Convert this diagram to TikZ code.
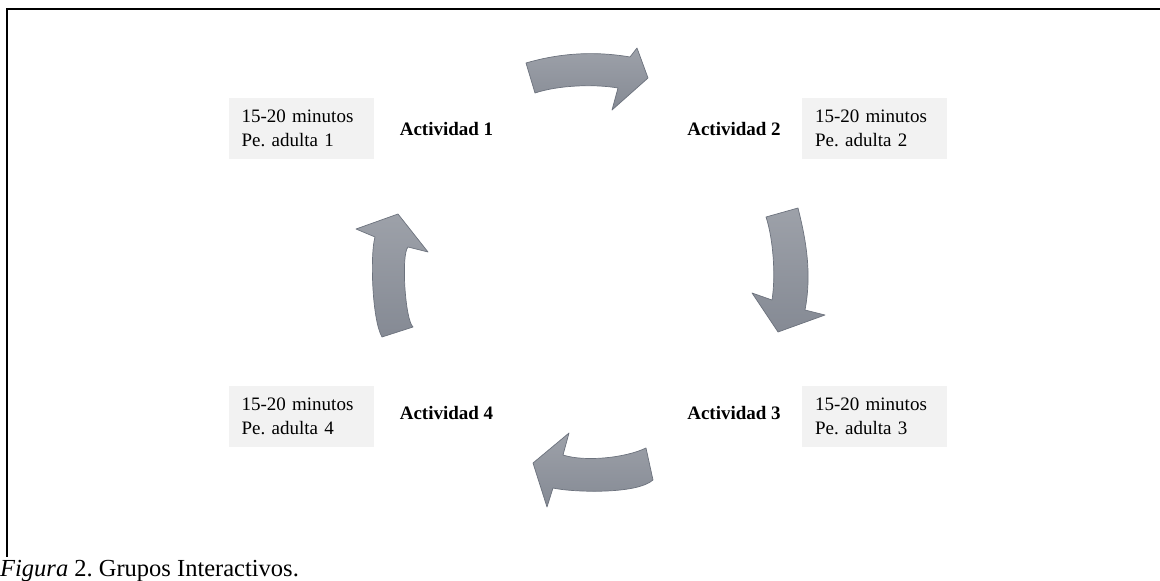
\documentclass[tikz,border=0pt]{standalone}
\usepackage{fontspec}
\setmainfont{Liberation Serif}
\frenchspacing
\definecolor{boxgray}{HTML}{F2F2F2}
\definecolor{arrowtop}{HTML}{9DA1A9}
\definecolor{arrowbot}{HTML}{858A94}
\definecolor{arrowline}{HTML}{6C727D}
\begin{document}
\begin{tikzpicture}[x=1pt,y=-1pt,
  every node/.style={font=\fontsize{19}{24}\selectfont},
  infobox/.style={fill=boxgray, minimum width=145pt, minimum height=61pt,
    inner xsep=13pt, inner ysep=0pt, text width=119pt, align=left},
  actlabel/.style={font=\fontsize{19}{24}\selectfont\bfseries, inner sep=0pt},
  cyclearrow/.style={draw=arrowline, line width=0.7pt, line join=round,
    top color=arrowtop, bottom color=arrowbot}]
\useasboundingbox (0,0) rectangle (1160,581);

% frame
\draw[line width=2pt] (1160,9) -- (7,9) -- (7,557);

% information boxes
\node[infobox] (box1) at (301,128) {15-20 minutos\\Pe. adulta 1};
\node[infobox] (box2) at (874.5,128) {15-20 minutos\\Pe. adulta 2};
\node[infobox] (box3) at (874.5,416) {15-20 minutos\\Pe. adulta 3};
\node[infobox] (box4) at (301,416) {15-20 minutos\\Pe. adulta 4};

% activity labels
\node[actlabel] (act1) at (446.5,129) {Actividad 1};
\node[actlabel] (act2) at (734,129) {Actividad 2};
\node[actlabel] (act3) at (734,413) {Actividad 3};
\node[actlabel] (act4) at (446.5,413) {Actividad 4};

% curved block arrows, clockwise
\shade[cyclearrow]
  (526,63) .. controls (560,53) and (595,51) .. (630,57)
  -- (637,48) -- (648,78) -- (612,110) -- (618,88)
  .. controls (595,84) and (559,85) .. (535,93) -- cycle;
\shade[cyclearrow]
  (798,208) .. controls (806,240) and (812,273) .. (805,310)
  -- (825,315) -- (778,332) -- (752,293) -- (772,300)
  .. controls (776,275) and (773,238) .. (766,217) -- cycle;
\shade[cyclearrow]
  (646,448) .. controls (625,458) and (585,462) .. (563,455)
  -- (569,433) -- (533,463) -- (547,507) -- (553,488)
  .. controls (570,492) and (636,495) .. (653,480) -- cycle;
\shade[cyclearrow]
  (382,337) .. controls (372,320) and (370,254) .. (375,237)
  -- (356,229) -- (398,214) -- (428,252) -- (408,247)
  .. controls (401,254) and (405,320) .. (413,327) -- cycle;

% caption
\node[anchor=base west, inner sep=0pt, font=\fontsize{24.5}{27}\selectfont] (caption) at (0,576)
  {\textit{Figura} 2. Grupos Interactivos.};
\end{tikzpicture}
\end{document}
